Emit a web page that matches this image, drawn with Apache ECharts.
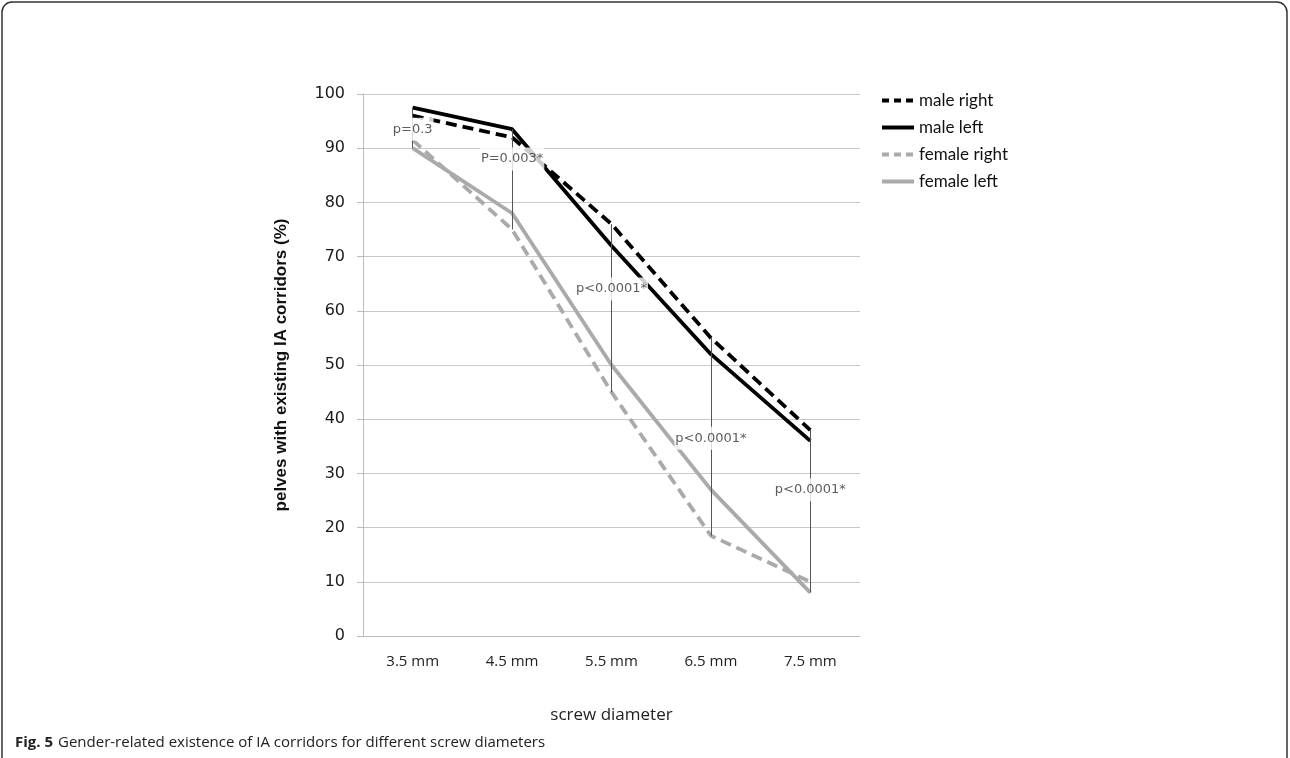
<!DOCTYPE html>
<html>
<head>
<meta charset="utf-8">
<script src="https://cdn.jsdelivr.net/npm/echarts@6/dist/echarts.min.js"></script>
<style>html,body{margin:0;padding:0;background:#fff;}#c{width:1290px;height:758px;}</style>
</head>
<body>
<div id="c"></div>
<script>
var categories = ['3.5 mm', '4.5 mm', '5.5 mm', '6.5 mm', '7.5 mm'];
var maleRight = [96, 92, 76, 55, 38];
var maleLeft = [97.5, 93.5, 72, 52, 36];
var femaleRight = [91.5, 75, 45, 18.5, 10];
var femaleLeft = [90, 78, 50, 27, 8];
var pTop = [97.5, 93.5, 76, 55, 38];
var pBottom = [90, 75, 45, 18.5, 8];
var pLabelAt = [93.5, 88, 64, 36.5, 27];
var pLabels = ['p=0.3', 'P=0.003*', 'p<0.0001*', 'p<0.0001*', 'p<0.0001*'];
var yTicks = [0, 10, 20, 30, 40, 50, 60, 70, 80, 90, 100];

var chart = echarts.init(document.getElementById('c'));
var vLines = categories.map(function (c, i) {
  return [{ coord: [c, pTop[i]] }, { coord: [c, pBottom[i]] }];
});
var labelPts = categories.map(function (c, i) {
  return { value: [c, pLabelAt[i]], name: pLabels[i] };
});
var thick = 3.8;
var legendLine = function (name, color, dashed) {
  return { name: name, itemStyle: { opacity: 0 },
    lineStyle: { color: color, width: 4, type: dashed ? [7, 5] : 'solid' } };
};
chart.setOption({
  animation: false,
  backgroundColor: '#fff',
  title: {
    left: 10, top: 729,
    text: '{b|Fig. 5} {n|Gender-related existence of IA corridors for different screw diameters}',
    textStyle: {
      fontWeight: 'normal',
      rich: {
        b: { fontFamily: 'Open Sans', fontWeight: 'bold', fontSize: 15, color: '#222' },
        n: { fontFamily: 'Open Sans', fontWeight: 'normal', fontSize: 15, color: '#222' }
      }
    }
  },
  graphic: [{
    type: 'rect', silent: true,
    shape: { x: 2, y: 2, width: 1285, height: 800, r: 10 },
    style: { fill: 'none', stroke: '#333', lineWidth: 1.5 }
  }],
  legend: {
    orient: 'vertical', left: 875, top: 87, itemWidth: 32, itemHeight: 14, itemGap: 10,
    itemStyle: { opacity: 0 },
    textStyle: { fontFamily: 'Lato', fontSize: 17, color: '#111' },
    data: [legendLine('male right', '#000', true), legendLine('male left', '#000', false),
           legendLine('female right', '#aaa', true), legendLine('female left', '#aaa', false)]
  },
  grid: { left: 363, right: 430, top: 94, bottom: 122, containLabel: false },
  xAxis: {
    type: 'category', data: categories, boundaryGap: true,
    name: 'screw diameter', nameLocation: 'middle', nameGap: 71,
    nameTextStyle: { fontFamily: 'Open Sans', fontSize: 17, color: '#222' },
    axisLine: { show: true, lineStyle: { color: '#bbb', width: 1 } },
    axisTick: { show: false },
    axisLabel: { margin: 18, fontFamily: 'Open Sans', fontSize: 15, color: '#222' }
  },
  yAxis: {
    type: 'value', min: yTicks[0], max: yTicks[yTicks.length - 1], interval: 10,
    name: 'pelves with existing IA corridors (%)', nameLocation: 'middle', nameGap: 73,
    nameTextStyle: { fontFamily: 'Liberation Sans', fontWeight: 'bold', fontSize: 17, color: '#111' },
    axisLine: { show: true, lineStyle: { color: '#bbb', width: 1 } },
    axisTick: { show: true, length: 6, lineStyle: { color: '#bbb' } },
    axisLabel: { margin: 18, fontFamily: 'DejaVu Sans', fontSize: 16, color: '#1a1a1a' },
    splitLine: { lineStyle: { color: '#c8c8c8', width: 1 } }
  },
  series: [
    { name: 'male right', type: 'line', data: maleRight, symbol: 'none', z: 4,
      lineStyle: { color: '#000', width: thick, type: [11, 6] }, itemStyle: { color: '#000' } },
    { name: 'male left', type: 'line', data: maleLeft, symbol: 'none', z: 4,
      lineStyle: { color: '#000', width: thick }, itemStyle: { color: '#000' } },
    { name: 'female right', type: 'line', data: femaleRight, symbol: 'none', z: 3,
      lineStyle: { color: '#aaa', width: thick, type: [11, 6] }, itemStyle: { color: '#aaa' } },
    { name: 'female left', type: 'line', data: femaleLeft, symbol: 'none', z: 3,
      lineStyle: { color: '#aaa', width: thick }, itemStyle: { color: '#aaa' } },
    { type: 'line', data: [], symbol: 'none', z: 1,
      markLine: { silent: true, symbol: 'none', label: { show: false },
        lineStyle: { color: '#555', width: 1, type: 'solid' }, data: vLines } },
    { type: 'scatter', data: labelPts, symbolSize: 0, z: 5, silent: true,
      label: { show: true, position: 'inside', formatter: function (p) { return p.name; },
        fontFamily: 'DejaVu Sans', fontSize: 13, color: '#333',
        backgroundColor: '#fff', padding: [5, 1] } }
  ]
});
</script>
</body>
</html>
